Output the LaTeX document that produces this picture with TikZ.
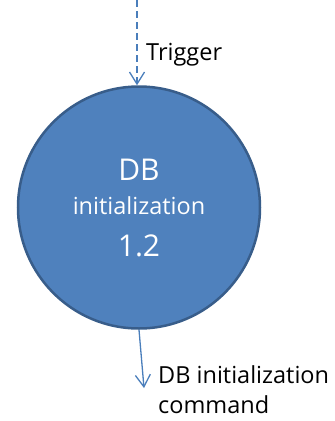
\documentclass[tikz,border=0pt]{standalone}
\usepackage{fontspec}
\setmainfont{Open Sans}
\usetikzlibrary{arrows.meta}
\definecolor{procfill}{HTML}{4F81BD}
\definecolor{procedge}{HTML}{385D8A}
\definecolor{flow}{HTML}{4A7EBB}
\begin{document}
\begin{tikzpicture}[x=1pt,y=-1pt,
  flowarrow/.style={draw=flow, line width=1.3pt, -{Straight Barb[length=12pt,width=15pt,line width=1.3pt]}},
  process/.style={circle, fill=procfill, draw=procedge, line width=2.5pt, minimum size=242pt, inner sep=0pt, align=center, text=white, font=\fontsize{23.5}{34}\selectfont},
  flowlabel/.style={anchor=base west, align=left, inner sep=0pt, font=\fontsize{23.5}{30}\selectfont, text=black}]
\useasboundingbox (0,0) rectangle (335,421);
\node[process] (p) at (139,207.5) {{\fontsize{30}{34}\selectfont DB}\\initialization\\[8pt]{\fontsize{30}{34}\selectfont 1.2}};
\coordinate (trigtop) at (137,0);
\coordinate (cmdend) at (144,388);
\draw[flowarrow, dash pattern=on 7pt off 4pt] (trigtop) -- (trigtop |- p.north);
\draw[flowarrow] (p.south) -- (cmdend);
\node[flowlabel] (trig) at (146,60) {Trigger};
\node[flowlabel] (cmd) at (158,413) {DB initialization\\command};
\end{tikzpicture}
\end{document}
